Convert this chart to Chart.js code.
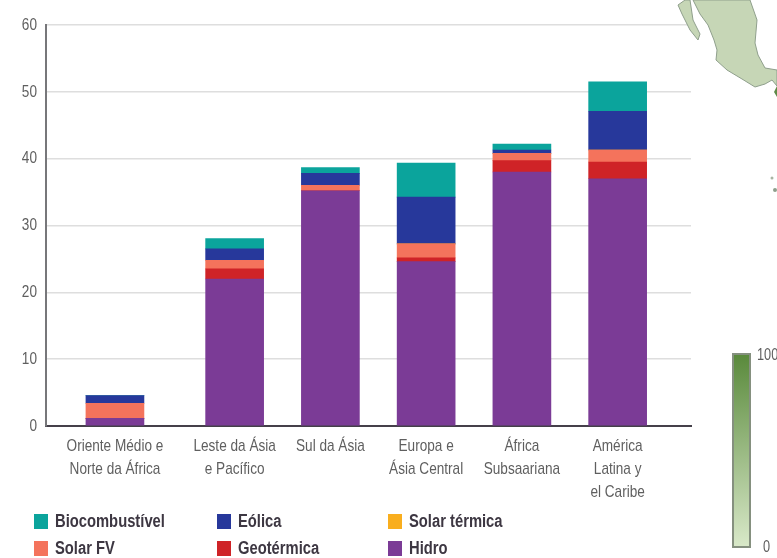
<!DOCTYPE html>
<html lang="pt">
<head>
<meta charset="utf-8">
<title>Renováveis por região</title>
<script src="https://cdn.jsdelivr.net/npm/chart.js@4/dist/chart.umd.min.js"></script>
<style>
  html, body { margin: 0; background: #fff; }
  #tela { position: relative; width: 777px; height: 558px; overflow: hidden; font-family: "Liberation Sans", sans-serif; }
  #grafico { position: absolute; left: 0; top: 0; }
  #mapa { position: absolute; left: 0; top: 0; }
  .item { position: absolute; display: flex; align-items: center; height: 16px; font-weight: bold; font-size: 18px; color: #3d3742; white-space: nowrap; }
  .item i { width: 14px; height: 15px; margin-right: 7px; }
  .item span { display: inline-block; transform: scaleX(0.82); transform-origin: left center; }
  #barra { position: absolute; left: 732px; top: 353px; width: 19px; height: 195px; box-sizing: border-box; border: 2px solid #85907f; background: linear-gradient(#5a8a3c, #d8e8c8); }
  .escala { position: absolute; font-size: 17px; color: #5f5f5f; transform: scaleX(0.75); transform-origin: left center; }
</style>
</head>
<body>
<div id="tela">
  <canvas id="grafico" width="777" height="558"></canvas>
  <svg id="mapa" width="777" height="558">
    <path d="M693 0 L700 14 L708 25 L714 40 L717 50 L716 60 L727 70 L742 79 L755 87 L765 84 L772 80 L777 86 L777 70 L765 68 L758 55 L755 43 L757 20 L750 0 Z" fill="#c6d6b6" stroke="#8f9f8c"/>
    <path d="M678 5 L685 0 L690 0 L693 20 L700 34 L698 40 L690 30 L682 14 Z" fill="#c6d6b6" stroke="#8f9f8c"/>
    <path d="M777 86 L774 92 L777 97 Z" fill="#5f8a48"/>
    <circle cx="772" cy="178" r="1.5" fill="#a9b5a4"/>
    <circle cx="775" cy="190" r="2" fill="#8f9f8c"/>
  </svg>
  <div id="legenda"></div>
  <div id="barra"></div>
  <div class="escala" style="left:757px;top:345px">100</div>
  <div class="escala" style="left:763px;top:537px">0</div>
</div>
<script>
const regioes = [
    ['Oriente Médio e', 'Norte da África'],
    ['Leste da Ásia', 'e Pacífico'],
    ['Sul da Ásia'],
    ['Europa e', 'Ásia Central'],
    ['África', 'Subsaariana'],
    ['América', 'Latina y', 'el Caribe']
];
// a primeira região fica um pouco mais afastada das outras
const posRegioes = [0, 1.25, 2.25, 3.25, 4.25, 5.25];

const hidro = [1.15, 22.0, 35.2, 24.6, 38.0, 37.0];
const geotermica = [0, 1.5, 0, 0.55, 1.7, 2.5];
const solarFv = [2.25, 1.3, 0.8, 2.1, 1.1, 1.8];
const solarTermica = [0, 0, 0, 0, 0, 0];
const eolica = [1.15, 1.7, 1.8, 7.0, 0.5, 5.8];
const biocombustivel = [0, 1.55, 0.85, 5.1, 0.9, 4.4];

const yTicks = [0, 10, 20, 30, 40, 50, 60];

const series = [
    { label: 'Hidro', data: hidro, cor: '#7b3b96' },
    { label: 'Geotérmica', data: geotermica, cor: '#cf2327' },
    { label: 'Solar FV', data: solarFv, cor: '#f4735c' },
    { label: 'Solar térmica', data: solarTermica, cor: '#f9ae1e' },
    { label: 'Eólica', data: eolica, cor: '#27389b' },
    { label: 'Biocombustível', data: biocombustivel, cor: '#0ba49c' }
];

// legenda em duas linhas e três colunas
const legendaPos = {
    'Biocombustível': [34, 513], 'Eólica': [217, 513], 'Solar térmica': [388, 513],
    'Solar FV': [34, 540], 'Geotérmica': [217, 540], 'Hidro': [388, 540]
};
const legenda = document.getElementById('legenda');
series.forEach(s => {
    const item = document.createElement('div');
    item.className = 'item';
    item.style.left = legendaPos[s.label][0] + 'px';
    item.style.top = legendaPos[s.label][1] + 'px';
    item.innerHTML = `<i style="background:${s.cor}"></i><span>${s.label}</span>`;
    legenda.append(item);
});

// sem fonte estreita instalada: o texto do canvas é comprimido na horizontal
const canvas = document.getElementById('grafico');
const ctx = canvas.getContext('2d');
const fillText = ctx.fillText.bind(ctx);
ctx.fillText = (txt, x, y) => fillText(txt, x, y, ctx.measureText(txt).width * 0.8);

new Chart(canvas, {
    type: 'bar',
    data: {
        labels: posRegioes,
        datasets: series.map(s => ({
            label: s.label,
            data: s.data,
            backgroundColor: s.cor,
            barThickness: 58
        }))
    },
    options: {
        responsive: false,
        animation: false,
        layout: { padding: { top: 25, right: 86, bottom: 0, left: 0 } },
        plugins: { legend: { display: false }, tooltip: { enabled: false } },
        scales: {
            x: {
                type: 'linear',
                offset: false,
                stacked: true,
                min: -0.72,
                max: 6.016,
                afterBuildTicks: ax => { ax.ticks = posRegioes.map(v => ({ value: v })); },
                afterFit: ax => { ax.height = 132; },
                grid: { display: false, offset: false },
                border: { color: '#45404a', width: 2 },
                ticks: {
                    autoSkip: false,
                    maxRotation: 0,
                    padding: 1,
                    color: '#5f5f5f',
                    font: { family: '"Liberation Sans"', size: 17, lineHeight: 1.36 },
                    callback: (v, i) => regioes[i]
                }
            },
            y: {
                stacked: true,
                min: 0,
                max: 60,
                afterBuildTicks: ax => { ax.ticks = yTicks.map(v => ({ value: v })); },
                afterFit: ax => { ax.width = 46; },
                grid: { color: '#dedede', lineWidth: 1.5, drawTicks: false },
                border: { color: '#77777a', width: 2 },
                ticks: {
                    padding: 9,
                    color: '#5f5f5f',
                    font: { family: '"Liberation Sans"', size: 17 }
                }
            }
        }
    }
});
</script>
</body>
</html>
